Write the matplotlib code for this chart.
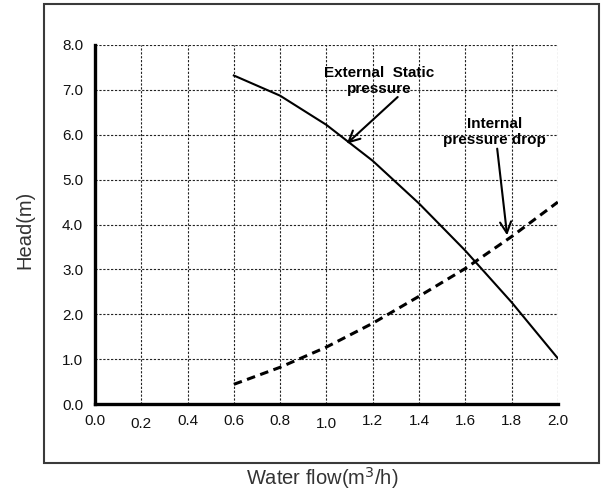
import matplotlib.pyplot as plt
from matplotlib.patches import Rectangle

plt.rcParams['font.family'] = ['Liberation Sans', 'DejaVu Sans']

# water flow (m3/h) and head (m)
flow = [0.6, 0.8, 1.0, 1.2, 1.4, 1.6, 1.8, 2.0]
external_static = [7.32, 6.87, 6.22, 5.42, 4.47, 3.42, 2.27, 1.02]
internal_drop = [0.44, 0.82, 1.27, 1.80, 2.40, 3.02, 3.73, 4.50]

x_ticks = [0.0, 0.2, 0.4, 0.6, 0.8, 1.0, 1.2, 1.4, 1.6, 1.8, 2.0]
y_ticks = [0.0, 1.0, 2.0, 3.0, 4.0, 5.0, 6.0, 7.0, 8.0]

fig = plt.figure(figsize=(6.05, 4.94), dpi=100)
ax = fig.add_axes([0.157, 0.182, 0.765, 0.727])

# outer frame around the chart
fig.patches.append(Rectangle((0.0727, 0.0628), 0.917, 0.929, transform=fig.transFigure,
                             fill=False, edgecolor='#3a3a3a', linewidth=1.5))

ax.plot(flow, external_static, color='black', linewidth=1.5)
ax.plot(flow, internal_drop, color='black', linewidth=2.2, linestyle=(0, (2.8, 1.8)))

ax.set_xlim(0, 2.0)
ax.set_ylim(0, 8.0)
ax.set_xticks(x_ticks)
ax.set_yticks(y_ticks)
ax.set_xticklabels(['%.1f' % v for v in x_ticks])
ax.set_yticklabels(['%.1f' % v for v in y_ticks])
ax.tick_params(length=0, labelsize=11, colors='#111111')
ax.tick_params(axis='x', pad=7)
ax.tick_params(axis='y', pad=8.5)
for t in ax.xaxis.get_major_ticks():
    if round(t.get_loc(), 1) in (0.2, 1.0):
        t.set_pad(9)

ax.grid(True, color='#222222', linewidth=0.8, linestyle=(0, (2, 1.5)))
for s in ['top', 'right']:
    ax.spines[s].set_visible(False)
for s in ['left', 'bottom']:
    ax.spines[s].set_linewidth(2.4)
    ax.spines[s].set_zorder(5)

# curve labels with arrows
arrow = dict(arrowstyle='->', color='black', lw=1.5, shrinkA=0, shrinkB=0, mutation_scale=20)
ax.text(1.23, 7.19, 'External  Static\npressure', ha='center', va='center',
        fontsize=11, fontweight='bold', linespacing=1.15)
ax.annotate('', xy=(1.088, 5.8), xytext=(1.308, 6.84), arrowprops=arrow)
ax.text(1.727, 6.06, 'Internal\npressure drop', ha='center', va='center',
        fontsize=11, fontweight='bold', linespacing=1.15)
ax.annotate('', xy=(1.781, 3.76), xytext=(1.738, 5.69), arrowprops=arrow)

fig.text(25 / 605, 1 - 230 / 494, 'Head(m)', rotation=90, ha='center', va='center',
         fontsize=14.5, color='#333333')
fig.text(322 / 605, 1 - 478 / 494, 'Water flow(m$^3$/h)', ha='center', va='center',
         fontsize=14.5, color='#333333')

fig.savefig('out.png', dpi=100)
